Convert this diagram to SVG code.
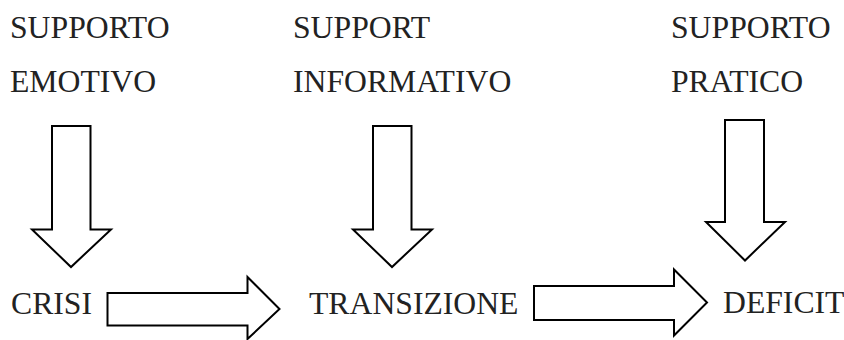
<svg xmlns="http://www.w3.org/2000/svg" width="844" height="340" viewBox="0 0 844 340">
<style>
text{font-family:'Liberation Serif','Times New Roman',Tinos,'DejaVu Serif',serif;font-size:31.7px;fill:#222}
.ar{fill:#fff;stroke:#000;stroke-width:2;stroke-linejoin:miter}
</style>
<rect width="844" height="340" fill="#fff"/>
<g id="supporto-emotivo"><text x="10" y="38">SUPPORTO</text><text x="10" y="92">EMOTIVO</text></g>
<g id="support-informativo"><text x="293" y="38">SUPPORT</text><text x="293" y="92">INFORMATIVO</text></g>
<g id="supporto-pratico"><text x="671" y="38">SUPPORTO</text><text x="671" y="92">PRATICO</text></g>
<g id="crisi"><text x="11" y="314">CRISI</text></g>
<g id="transizione"><text x="309" y="314">TRANSIZIONE</text></g>
<g id="deficit"><text x="723" y="313">DEFICIT</text></g>
<g id="connectors">
<polygon class="ar" points="52,126 90.5,126 90.5,229.5 111,229.5 71,267 32,229.5 52,229.5"/>
<polygon class="ar" points="373,126 411.5,126 411.5,229.5 432,229.5 392,267 353,229.5 373,229.5"/>
<polygon class="ar" points="725,120 764,120 764,222 785,222 745,260.5 706,222 725,222"/>
<polygon class="ar" points="107.5,293 247.5,293 247.5,277 279.5,309 247.5,339 247.5,325.5 107.5,325.5"/>
<polygon class="ar" points="534,286 674,286 674,269.5 707,302.5 674,335.5 674,320 534,320"/>
</g>
</svg>
